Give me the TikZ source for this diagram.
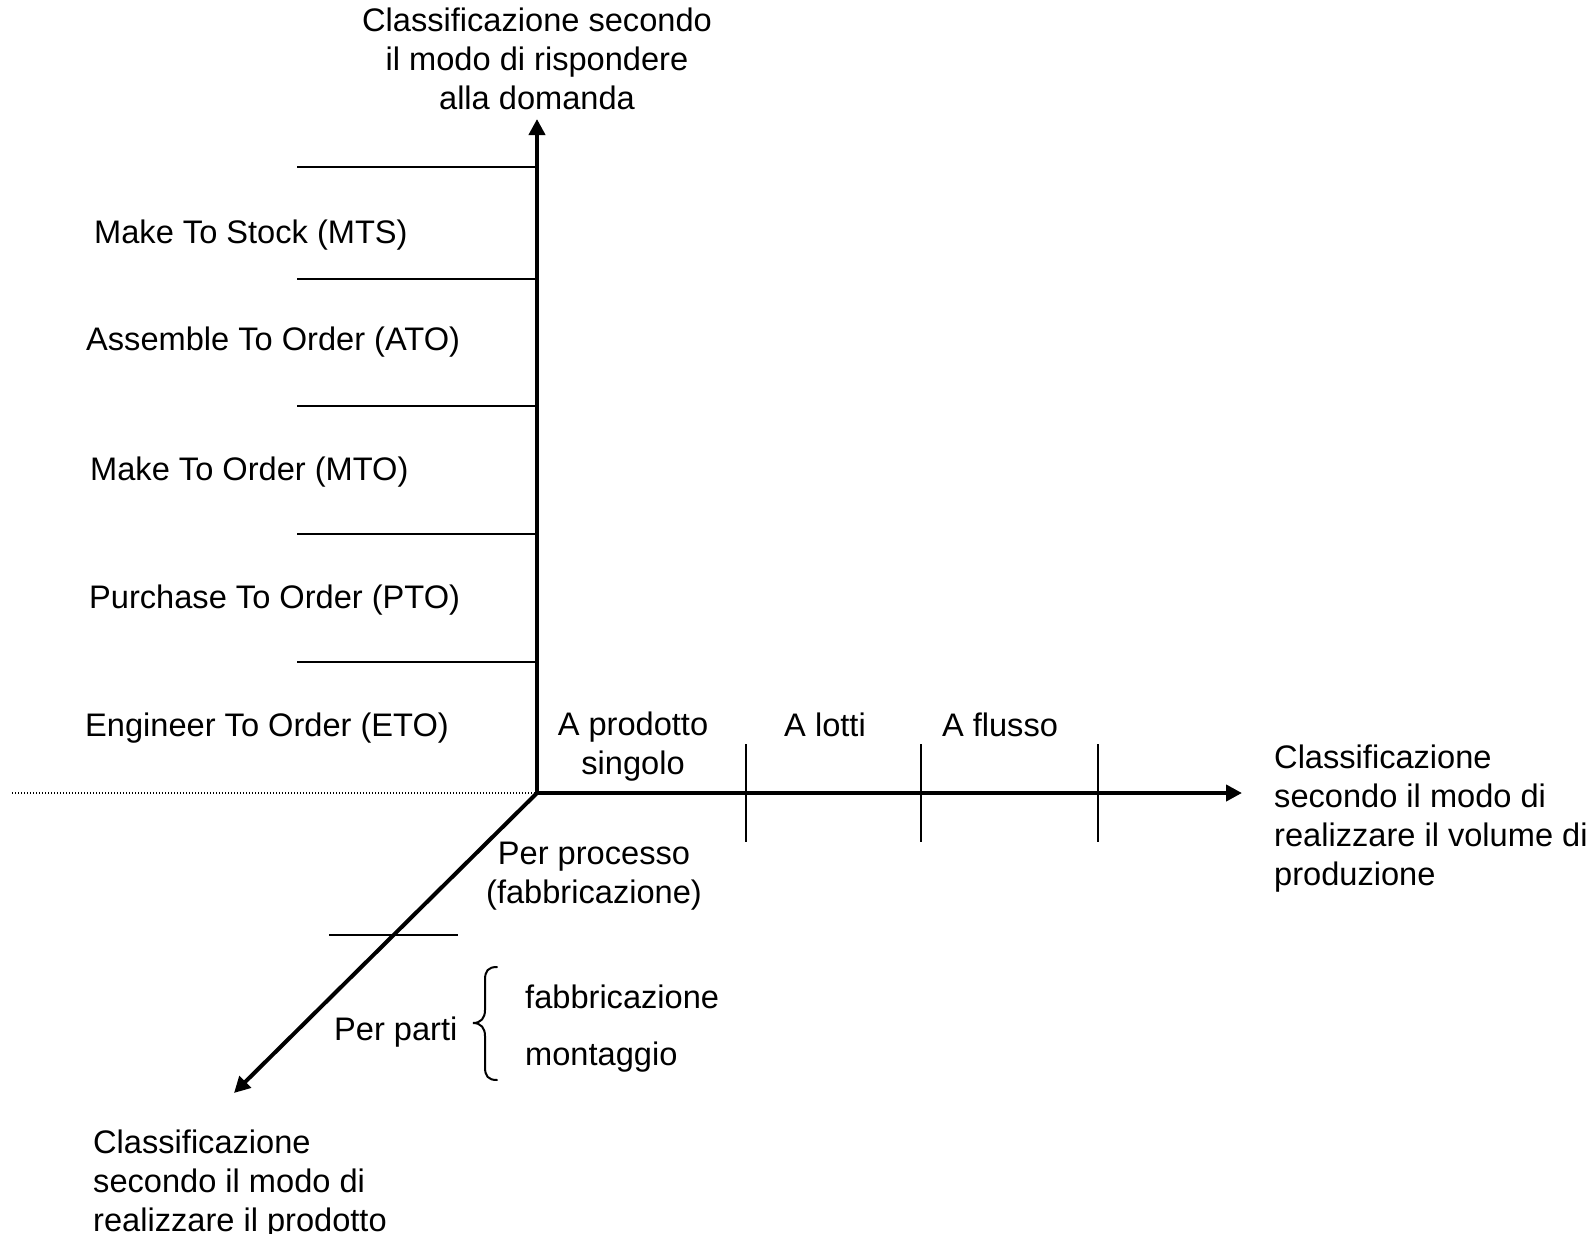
\documentclass[tikz,border=0pt]{standalone}
\usepackage{fontspec}
\setmainfont{Liberation Sans}
\usetikzlibrary{arrows.meta}
\begin{document}
\begin{tikzpicture}[x=1pt,y=-1pt,
  lbl/.style={inner sep=0pt,font=\fontsize{32.6}{39}\selectfont},
  axis/.style={line width=4pt,-{Triangle[length=16pt,width=16pt]}},
  thin/.style={line width=2pt},
  guide/.style={line width=1.2pt,dash pattern=on 1.4pt off 1.6pt}]
\useasboundingbox (0,0) rectangle (1593,1234);

% axes
\coordinate (O) at (537,793);
\coordinate (ytip) at (537,119);
\coordinate (xtip) at (1242,793);
\coordinate (ztip) at (234,1093);
\coordinate (gl) at (12,793);
\draw[guide] (gl) -- (O);
\draw[axis] (O) -- (ytip);
\draw[axis] (O) -- (xtip);
\draw[axis] (O) -- (ztip);

% separators along the vertical axis
\foreach \y [count=\i] in {167,279,406,534,662}{
  \coordinate (s\i) at (297,\y);
  \coordinate (t\i) at (537,\y);
  \draw[thin] (s\i) -- (t\i);
}

% ticks along the horizontal axis
\foreach \x [count=\i] in {746,921,1098}{
  \coordinate (ka\i) at (\x,744);
  \coordinate (kb\i) at (\x,842);
  \draw[thin] (ka\i) -- (kb\i);
}

% separator across the diagonal axis
\coordinate (da) at (329,935);
\coordinate (db) at (458,935);
\draw[thin] (da) -- (db);

% brace
\draw[thin,line cap=round]
  (497,967) .. controls (488,967) and (485,971) .. (485,980)
  -- (485,1010) .. controls (485,1018) and (481,1023) .. (473,1023)
  .. controls (481,1023) and (485,1028) .. (485,1036)
  -- (485,1067) .. controls (485,1076) and (488,1080) .. (497,1080);

% axis titles (base anchor sits on the last line)
\node[lbl,anchor=base,align=center] (ttop) at (537,109)
  {Classificazione secondo\\il modo di rispondere\\alla domanda};
\node[lbl,anchor=base west,align=left] (tright) at (1274,885)
  {Classificazione\\secondo il modo di\\realizzare il volume di\\produzione};
\node[lbl,anchor=base west,align=left] (tdiag) at (93,1231)
  {Classificazione\\secondo il modo di\\realizzare il prodotto};

% categories on the vertical axis
\node[lbl,anchor=base west] (mts) at (94,243) {Make To Stock (MTS)};
\node[lbl,anchor=base west] (ato) at (86,350) {Assemble To Order (ATO)};
\node[lbl,anchor=base west] (mto) at (90,480) {Make To Order (MTO)};
\node[lbl,anchor=base west] (pto) at (89,608) {Purchase To Order (PTO)};
\node[lbl,anchor=base west] (eto) at (85,736) {Engineer To Order (ETO)};

% categories on the horizontal axis
\node[lbl,anchor=base,align=center] (prod) at (633,774) {A prodotto\\singolo};
\node[lbl,anchor=base] (lotti) at (825,736) {A lotti};
\node[lbl,anchor=base] (flusso) at (1000,736) {A flusso};

% categories on the diagonal axis
\node[lbl,anchor=base,align=center] (proc) at (594,903) {Per processo\\(fabbricazione)};
\node[lbl,anchor=base west] (parti) at (334,1040) {Per parti};
\node[lbl,anchor=base west] (fab) at (525,1008) {fabbricazione};
\node[lbl,anchor=base west] (mont) at (525,1065) {montaggio};
\end{tikzpicture}
\end{document}
